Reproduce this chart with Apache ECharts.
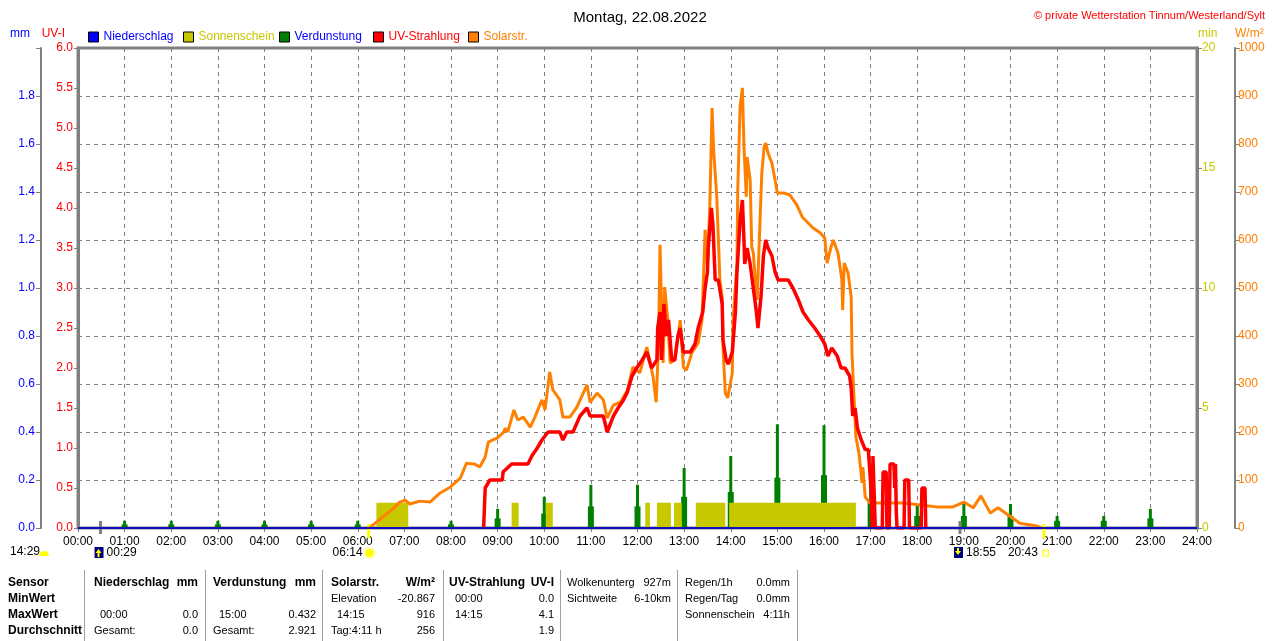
<!DOCTYPE html>
<html><head><meta charset="utf-8">
<script src="https://cdn.jsdelivr.net/npm/echarts@6/dist/echarts.min.js"></script>
<style>
html,body{margin:0;padding:0;background:#fff;}
#chart{position:absolute;left:0;top:0;width:1280px;height:641px;}
#tbl{position:absolute;left:0;top:570px;height:71px;display:flex;font-family:'Liberation Sans',Arial,sans-serif;font-size:11px;color:#000;}
.col{box-sizing:border-box;padding-top:4px;height:71px;}
.col+.col{border-left:1px solid #a0a0a0;}
.row{display:flex;justify-content:space-between;height:16px;line-height:16px;white-space:nowrap;}
.b{font-weight:bold;font-size:12px;}
.t{padding-left:6px;}
</style></head><body>
<div id="chart"></div><div id="tbl"></div>
<script>
// ---------------- DATA ----------------
const xTickLabels = ['00:00','01:00','02:00','03:00','04:00','05:00','06:00','07:00','08:00','09:00','10:00','11:00','12:00','13:00','14:00','15:00','16:00','17:00','18:00','19:00','20:00','21:00','22:00','23:00','24:00'];

// Solarstrahlung W/m2 : [minute of day, value]
const solar = [[375,0],[390,20],[405,40],[414,54],[421,58],[427,50],[440,56],[453,54],[466,73],[479,85],[492,104],[500,135],[511,133],[517,127],[524,148],[528,179],[539,187],[547,198],[550,208],[553,200],[561,246],[566,225],[573,231],[582,210],[588,231],[597,267],[601,246],[607,325],[611,288],[620,267],[624,231],[633,231],[642,252],[655,298],[659,262],[668,281],[676,267],[681,229],[689,256],[698,262],[707,287],[714,335],[723,323],[732,377],[740,315],[744,262],[747,380],[749,590],[751,460],[753,344],[755,502],[759,433],[762,344],[768,350],[775,433],[779,335],[783,329],[790,365],[798,385],[803,433],[807,621],[810,544],[813,669],[816,875],[818,787],[822,690],[824,606],[826,517],[829,481],[830,377],[833,281],[836,271],[842,323],[843,433],[848,552],[849,704],[852,877],[855,917],[857,794],[860,690],[861,773],[865,725],[867,585],[869,573],[871,531],[874,475],[875,475],[878,656],[880,740],[883,794],[885,802],[888,781],[893,760],[897,725],[900,698],[908,698],[916,694],[925,673],[932,648],[938,638],[946,625],[955,615],[961,604],[964,552],[969,585],[972,600],[978,573],[983,517],[984,454],[986,552],[991,531],[995,481],[996,365],[998,294],[1001,190],[1005,156],[1009,94],[1010,127],[1013,65],[1019,52],[1041,52],[1062,52],[1084,48],[1105,44],[1126,44],[1140,54],[1152,42],[1162,67],[1174,31],[1184,42],[1197,27],[1212,10],[1234,4],[1240,0]];

// UV-Strahlung UV-I : [minute of day, value]
const uv = [[522,0],[524,0.5],[530,0.6],[546,0.6],[547,0.7],[558,0.8],[579,0.8],[584,0.9],[591,1.0],[597,1.1],[605,1.2],[620,1.2],[624,1.1],[629,1.2],[637,1.2],[646,1.4],[655,1.5],[659,1.4],[676,1.4],[681,1.2],[689,1.4],[695,1.5],[702,1.6],[707,1.7],[713,1.9],[719,2.0],[726,2.1],[732,2.2],[738,2.0],[745,2.1],[746,2.5],[749,2.7],[751,2.1],[754,2.8],[757,2.4],[760,2.6],[764,2.1],[768,2.1],[772,2.4],[775,2.5],[779,2.2],[788,2.2],[794,2.3],[798,2.5],[804,2.7],[807,3.0],[810,3.2],[811,3.5],[815,4.0],[817,3.8],[820,3.1],[824,3.1],[829,2.8],[830,2.35],[834,2.1],[837,2.05],[842,2.2],[846,2.7],[848,3.2],[852,3.85],[855,4.1],[857,3.6],[858,3.3],[861,3.5],[865,3.3],[869,3.0],[873,2.7],[875,2.5],[879,2.9],[882,3.4],[885,3.6],[888,3.5],[893,3.4],[897,3.2],[901,3.1],[914,3.1],[920,3.0],[927,2.85],[933,2.7],[940,2.6],[948,2.5],[955,2.4],[961,2.3],[965,2.15],[970,2.25],[977,2.15],[982,2.0],[987,2.0],[993,1.9],[995,1.75],[997,1.4],[1000,1.5],[1003,1.25],[1008,1.1],[1013,0.98],[1017,0.98],[1019,0.7],[1021,0.4],[1022,0],[1023,0.9],[1025,0.9],[1026,0],[1035,0],[1036,0.7],[1040,0.7],[1041,0],[1044,0],[1045,0.8],[1050,0.8],[1051,0.5],[1052,0.8],[1053,0.2],[1054,0],[1063,0],[1064,0.6],[1069,0.6],[1070,0],[1085,0],[1086,0.5],[1090,0.5],[1091,0]];

// Sonnenschein (min): sunshine periods
const sunStart = [384,558,602,730,745,767,795,838];
const sunEnd   = [425,567,611,736,763,777,833,1001];
const sunValue = [1.05,1.05,1.05,1.05,1.05,1.05,1.05,1.05];

// Verdunstung (mm) per hour
const evapHour     = [1,2,3,4,5,6,7,8,9,10,11,12,13,14,15,16,17,18,19,20,21,22,23];
const evapValue    = [0.03,0.03,0.03,0.03,0.03,0.03,0.03,0.03,0.08,0.13,0.18,0.18,0.25,0.30,0.432,0.428,0.25,0.10,0.10,0.10,0.05,0.05,0.08];
const evapShoulder = [0.015,0.015,0.015,0.015,0.015,0.015,0.015,0.015,0.04,0.06,0.09,0.09,0.13,0.15,0.21,0.22,0.12,0.05,0.05,0.05,0.03,0.03,0.04];

// Niederschlag (mm)
const rainTime  = [0,1440];
const rainValue = [0,0];

// Sun / moon events
const astroTime  = [29,374,1135,1243];
const astroKind  = ['moonrise','sunrise','moonset','sunset'];
const astroLabel = ['00:29','06:14','18:55','20:43'];

// Table
const tblRows = [
  [['Sensor',''],['Niederschlag','mm'],['Verdunstung','mm'],['Solarstr.','W/m²'],['UV-Strahlung','UV-I'],['Wolkenunterg','927m'],['Regen/1h','0.0mm']],
  [['MinWert',''],['',''],['',''],['Elevation','-20.867'],['00:00','0.0'],['Sichtweite','6-10km'],['Regen/Tag','0.0mm']],
  [['MaxWert',''],['00:00','0.0'],['15:00','0.432'],['14:15','916'],['14:15','4.1'],['',''],['Sonnenschein','4:11h']],
  [['Durchschnitt',''],['Gesamt:','0.0'],['Gesamt:','2.921'],['Tag:4:11 h','256'],['','1.9'],['',''],['','']]
];

// ---------------- TABLE ----------------
const colW = [84,121,117,121,117,117,120,10];
const colPad = [[8,8],[9,7],[7,6],[8,8],[5,6],[6,6],[7,7],[0,0]];
const tbl = document.getElementById('tbl');
colW.forEach((w,c)=>{
  const col = document.createElement('div');
  col.className='col'; col.style.width=w+'px';
  col.style.paddingLeft=colPad[c][0]+'px'; col.style.paddingRight=colPad[c][1]+'px';
  if (c < 7) {
    tblRows.forEach((r,ri)=>{
      const row=document.createElement('div'); row.className='row';
      const bold = c===0 || (ri===0 && c<5);
      const a=document.createElement('span'), b=document.createElement('span');
      a.textContent=r[c][0]; b.textContent=r[c][1];
      if (bold){a.className='b'; b.className='b';}
      if (/^\d\d:\d\d$/.test(r[c][0])) a.classList.add('t');
      row.appendChild(a); row.appendChild(b); col.appendChild(row);
    });
  }
  tbl.appendChild(col);
});

// ---------------- CHART ----------------
const FONT = "'Liberation Sans', Arial, sans-serif";
const gray = '#808080';
const cYellow = '#c8c800', cOrange = '#ff8000', cRed = '#ff0000', cGreen = '#008000', cBlue = '#0000ff';

const sunData = [];
sunStart.forEach((s,i)=>{ sunData.push([s,0],[s,sunValue[i]],[sunEnd[i],sunValue[i]],[sunEnd[i],0]); });

const chart = echarts.init(document.getElementById('chart'));

function mkLegend(name, left, color){
  return {data:[name], left:left, top:31, padding:0, icon:'rect', itemWidth:10, itemHeight:10,
    selectedMode:false, itemStyle:{borderColor:'#000', borderWidth:1},
    textStyle:{color:color, fontSize:12, fontFamily:FONT}};
}

const option = {
  animation:false,
  backgroundColor:'#fff',
  title:[
    {text:'Montag, 22.08.2022', left:'center', top:5, textStyle:{fontSize:15, fontWeight:'normal', color:'#000', fontFamily:FONT}},
    {text:'© private Wetterstation Tinnum/Westerland/Sylt', right:10, top:5, textStyle:{fontSize:11, fontWeight:'normal', color:cRed, fontFamily:FONT}}
  ],
  legend:[
    mkLegend('Niederschlag',88,cBlue),
    mkLegend('Sonnenschein',183,cYellow),
    mkLegend('Verdunstung',279,cBlue),
    mkLegend('UV-Strahlung',373,cRed),
    mkLegend('Solarstr.',468,cOrange)
  ],
  grid:{left:78, right:83, top:48, bottom:113, show:true, borderColor:gray, borderWidth:3},
  xAxis:{type:'value', min:0, max:1440, interval:60,
    axisLine:{show:true, lineStyle:{color:gray, width:2}},
    axisTick:{show:true, length:4, lineStyle:{color:gray}},
    axisLabel:{color:'#000', fontSize:12, fontFamily:FONT, margin:8, formatter:v=>xTickLabels[Math.round(v/60)]},
    splitLine:{show:true, lineStyle:{color:gray, type:[4,4], width:1}}},
  yAxis:[
    {type:'value', position:'left', offset:0, min:0, max:6, interval:0.5, name:'UV-I', nameLocation:'end', nameGap:8,
      nameTextStyle:{color:cRed, fontSize:12, fontFamily:FONT, align:'right', padding:[0,13,0,0]},
      axisLine:{show:true, lineStyle:{color:gray, width:3}}, axisTick:{show:true, length:4, lineStyle:{color:gray}},
      axisLabel:{color:cRed, fontSize:12, fontFamily:FONT, margin:5, formatter:v=>v.toFixed(1)}, splitLine:{show:false}},
    {type:'value', position:'left', offset:37, min:0, max:2, interval:0.2, name:'mm', nameLocation:'end', nameGap:8,
      nameTextStyle:{color:cBlue, fontSize:12, fontFamily:FONT, align:'right', padding:[0,11,0,0]},
      axisLine:{show:true, lineStyle:{color:gray, width:2}}, axisTick:{show:true, length:5, lineStyle:{color:gray}},
      axisLabel:{color:cBlue, fontSize:12, fontFamily:FONT, margin:6, formatter:v=>v>=1.99?'':v.toFixed(1)}, splitLine:{show:false}},
    {type:'value', position:'right', offset:0, min:0, max:20, interval:5, name:'min', nameLocation:'end', nameGap:8,
      nameTextStyle:{color:cYellow, fontSize:12, fontFamily:FONT, align:'left', padding:[0,0,0,1]},
      axisLine:{show:true, lineStyle:{color:gray, width:3}}, axisTick:{show:true, length:5, lineStyle:{color:gray}},
      axisLabel:{color:cYellow, fontSize:12, fontFamily:FONT, margin:5, formatter:v=>String(v)}, splitLine:{show:false}},
    {type:'value', position:'right', offset:38, min:0, max:1000, interval:100, name:'W/m²', nameLocation:'end', nameGap:8,
      nameTextStyle:{color:cOrange, fontSize:12, fontFamily:FONT, align:'left', padding:[0,0,0,0]},
      axisLine:{show:true, lineStyle:{color:gray, width:2}}, axisTick:{show:true, length:5, lineStyle:{color:gray}},
      axisLabel:{color:cOrange, fontSize:12, fontFamily:FONT, margin:3, formatter:v=>String(v)},
      splitLine:{show:true, lineStyle:{color:gray, type:[4,4], width:1}}}
  ],
  series:[
    {name:'Sonnenschein', type:'line', yAxisIndex:2, data:sunData, showSymbol:false, symbol:'none',
      itemStyle:{color:cYellow}, lineStyle:{width:0, color:cYellow}, areaStyle:{color:cYellow, opacity:1}},
    {name:'Verdunstung', type:'custom', yAxisIndex:1, itemStyle:{color:cGreen},
      data:evapHour.map((h,i)=>[h*60, evapValue[i], evapShoulder[i]]),
      renderItem:(params,api)=>{
        const t=api.value(0);
        const base=api.coord([t,0]), top=api.coord([t,api.value(1)]), sh=api.coord([t,api.value(2)]);
        return {type:'group', children:[
          {type:'rect', shape:{x:base[0]-3, y:sh[1], width:6, height:base[1]-sh[1]}, style:{fill:cGreen}},
          {type:'rect', shape:{x:base[0]-1.5, y:top[1], width:3, height:base[1]-top[1]}, style:{fill:cGreen}}
        ]};
      }},
    {name:'Solarstr.', type:'line', yAxisIndex:3, data:solar, showSymbol:false, symbol:'none',
      itemStyle:{color:cOrange}, lineStyle:{width:3, color:cOrange}},
    {name:'UV-Strahlung', type:'line', yAxisIndex:0, data:uv, showSymbol:false, symbol:'none',
      itemStyle:{color:cRed}, lineStyle:{width:3.5, color:cRed}},
    {name:'Niederschlag', type:'line', yAxisIndex:1, data:rainTime.map((t,i)=>[t,rainValue[i]]), showSymbol:false, symbol:'none',
      itemStyle:{color:cBlue}, lineStyle:{width:2, color:'#1010c0'}},
    {name:'astro', type:'custom', yAxisIndex:0, clip:false, silent:true,
      data:astroTime.map((t,i)=>[t,i]),
      renderItem:(params,api)=>{
        const i=params.dataIndex, kind=astroKind[i];
        const p=api.coord([api.value(0),0]);
        const x=p[0], y=p[1], ly=y+25;
        const ch=[];
        const txtStyle={fill:'#000', fontSize:12, fontFamily:FONT, verticalAlign:'middle', textVerticalAlign:'middle'};
        if (kind==='moonrise' || kind==='moonset'){
          ch.push({type:'line', shape:{x1:x,y1:y-7,x2:x,y2:y+6}, style:{stroke:gray, lineWidth:3}});
          ch.push({type:'rect', shape:{x:x-6,y:ly-6,width:9,height:11}, style:{fill:'#000080'}});
          const up = kind==='moonrise';
          ch.push({type:'polygon', shape:{points: up ? [[x-2,ly-4],[x+1,ly],[x-1,ly],[x-1,ly+4],[x-3,ly+4],[x-3,ly],[x-5,ly]] : [[x-2,ly+2],[x+1,ly-2],[x-1,ly-2],[x-1,ly-5],[x-3,ly-5],[x-3,ly-2],[x-5,ly-2]]}, style:{fill:'#ffff00'}});
          ch.push({type:'text', style:Object.assign({text:astroLabel[i], x:x+6, y:ly, align:'left', textAlign:'left'}, txtStyle)});
        } else {
          ch.push({type:'line', shape:{x1:x,y1:y-4,x2:x,y2:y+10}, style:{stroke:'#ffff00', lineWidth:3}});
          if (kind==='sunrise'){
            ch.push({type:'circle', shape:{cx:x+1,cy:ly,r:6}, style:{fill:'#ffffb0'}});
            ch.push({type:'circle', shape:{cx:x+1,cy:ly,r:4}, style:{fill:'#ffff00'}});
          } else {
            ch.push({type:'rect', shape:{x:x-1.5,y:ly-3,width:6,height:6}, style:{fill:'#ffffe0', stroke:'#ffff00', lineWidth:1}});
          }
          ch.push({type:'text', style:Object.assign({text:astroLabel[i], x:x-6, y:ly, align:'right', textAlign:'right'}, txtStyle)});
        }
        return {type:'group', children:ch};
      }}
  ],
  graphic:[
    {type:'text', left:10, top:546, style:{text:'14:29', fill:'#000', fontSize:12, fontFamily:FONT}},
    {type:'sector', shape:{cx:44, cy:556, r:5, r0:0, startAngle:Math.PI, endAngle:2*Math.PI}, style:{fill:'#ffff00'}}
  ]
};
chart.setOption(option);
</script></body></html>
